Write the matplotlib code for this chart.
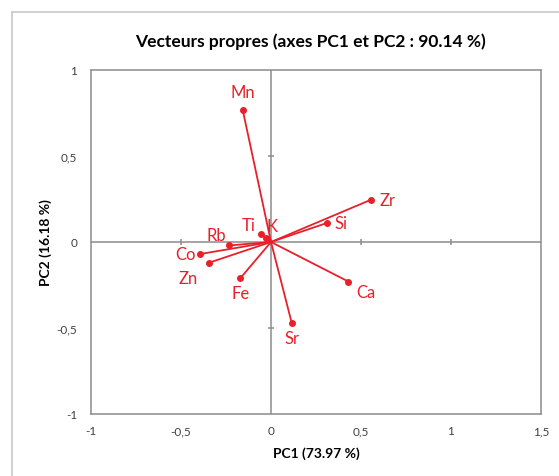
import matplotlib.pyplot as plt
from matplotlib.lines import Line2D

plt.rcParams['font.family'] = ['Lato', 'DejaVu Sans']

# eigenvector loadings
elements = ['Mn', 'Zr', 'Si', 'Ti', 'K', 'Rb', 'Co', 'Zn', 'Fe', 'Ca', 'Sr']
pc1 = [-0.157, 0.556, 0.309, -0.056, -0.026, -0.232, -0.394, -0.343, -0.170, 0.430, 0.115]
pc2 = [0.767, 0.246, 0.110, 0.047, 0.023, -0.020, -0.070, -0.120, -0.210, -0.230, -0.470]
# label offsets in points (dx, dy, ha, va)
label_pos = {
    'Mn': (0, 7, 'center', 'bottom'),
    'Zr': (6, 0, 'left', 'center'),
    'Si': (6, 0, 'left', 'center'),
    'Ti': (-4, 1, 'right', 'bottom'),
    'K': (0, 3, 'left', 'bottom'),
    'Rb': (-2, 2, 'right', 'bottom'),
    'Co': (-3, 0, 'right', 'center'),
    'Zn': (-8, -5, 'right', 'top'),
    'Fe': (0, -5, 'center', 'top'),
    'Ca': (6, -2, 'left', 'top'),
    'Sr': (0, -5, 'center', 'top'),
}

xticks = [-1, -0.5, 0, 0.5, 1, 1.5]
yticks = [-1, -0.5, 0, 0.5, 1]

red = '#e8202a'
grey = '#8c8c8c'

fig = plt.figure(figsize=(5.59, 4.77), dpi=100)
ax = fig.add_axes([91 / 559, 1 - 415 / 477, 450 / 559, 344 / 477])

# outer chart frame
fig.add_artist(Line2D([12 / 559, 12 / 559], [0, 1 - 13 / 477], transform=fig.transFigure,
                      color='#c8c8c8', lw=1.2))
fig.add_artist(Line2D([12 / 559, 1], [1 - 13 / 477, 1 - 13 / 477], transform=fig.transFigure,
                      color='#c8c8c8', lw=1.2))

ax.axhline(0, color=grey, lw=1.1, zorder=1)
ax.axvline(0, color=grey, lw=1.1, zorder=1)
ax.plot(xticks[1:-1], [0] * 4, ls='none', marker='|', ms=5, mew=1.1, color=grey, zorder=1)
ax.plot([0] * 3, yticks[1:-1], ls='none', marker='_', ms=5, mew=1.1, color=grey, zorder=1)

for name, x, y in zip(elements, pc1, pc2):
    ax.plot([0, x], [0, y], color=red, lw=1.3, zorder=3)
    ax.plot(x, y, 'o', color=red, ms=4, zorder=4)
    dx, dy, ha, va = label_pos[name]
    ax.annotate(name, (x, y), xytext=(dx, dy), textcoords='offset points',
                ha=ha, va=va, color=red, fontsize=12)

ax.set_xlim(-1, 1.5)
ax.set_ylim(-1, 1)
ax.set_xticks(xticks)
ax.set_yticks(yticks)
ax.set_xticklabels(['-1', '-0,5', '0', '0,5', '1', '1,5'])
ax.set_yticklabels(['-1', '-0,5', '0', '0,5', '1'])
ax.tick_params(axis='x', length=0, labelsize=8.5, labelcolor='#404040', pad=8)
ax.tick_params(axis='y', length=0, labelsize=8.5, labelcolor='#404040', pad=10)
for s in ax.spines.values():
    s.set_color(grey)
    s.set_linewidth(1.1)

ax.set_xlabel('PC1 (73.97 %)', fontsize=10, fontweight='bold', labelpad=7)
ax.set_ylabel('PC2 (16.18 %)', fontsize=10, fontweight='bold', labelpad=3)
fig.text(0.555, 1 - 42 / 477, 'Vecteurs propres (axes PC1 et PC2 : 90.14 %)',
         ha='center', va='center', fontsize=12.5, fontweight='bold')

fig.savefig('out.png', dpi=100)
